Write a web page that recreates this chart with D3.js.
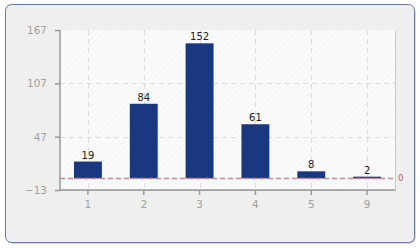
<!DOCTYPE html>
<html>
<head>
<meta charset="utf-8">
<script src="https://cdn.jsdelivr.net/npm/d3@7"></script>
<style>
  body { margin: 0; background: #fff; }
  svg text { font-family: "DejaVu Sans", Verdana, sans-serif; }
</style>
</head>
<body>
<div id="chart"></div>
<script>
// chart data
var categories = ["1", "2", "3", "4", "5", "9"];
var values = [19, 84, 152, 61, 8, 2];
var yTicks = [-13, 47, 107, 167];
var refValue = 0;

var width = 420, height = 250;
var margin = { top: 30, right: 25, bottom: 60, left: 60 };

var svg = d3.select("#chart").append("svg")
    .attr("width", width)
    .attr("height", height);

/* ****** outer panel ****** */
svg.append("rect")
    .attr("x", 6.5).attr("y", 5.5)
    .attr("width", 409).attr("height", 238)
    .attr("rx", 6)
    .attr("fill", "#b8bcc8");
svg.append("rect")
    .attr("x", 5.5).attr("y", 4.5)
    .attr("width", 409).attr("height", 238)
    .attr("rx", 6)
    .attr("fill", "#efefef")
    .attr("stroke", "#6577ad");

var defs = svg.append("defs");
var pat = defs.append("pattern")
    .attr("id", "hatch")
    .attr("patternUnits", "userSpaceOnUse")
    .attr("width", 4).attr("height", 4)
    .attr("patternTransform", "rotate(45)");
pat.append("rect").attr("width", 4).attr("height", 4).attr("fill", "#fbfbfb");
pat.append("line").attr("x1", 0).attr("y1", 0).attr("x2", 0).attr("y2", 4)
    .attr("stroke", "#eeeeee").attr("stroke-width", 1);

var pw = width - margin.left - margin.right;
var ph = height - margin.top - margin.bottom;

var g = svg.append("g")
    .attr("transform", "translate(" + margin.left + "," + margin.top + ")");

var x = d3.scaleBand().domain(categories).range([0, pw]).paddingInner(0.5).paddingOuter(0.25);
var y = d3.scaleLinear().domain([yTicks[0], yTicks[yTicks.length - 1]]).range([ph, 0]);

// plot background with slight shadow
g.append("rect").attr("x", 1).attr("y", 1).attr("width", pw).attr("height", ph).attr("fill", "#c8c8c8");
g.append("rect").attr("width", pw).attr("height", ph).attr("fill", "url(#hatch)");

// grid
g.selectAll(".vgrid").data(categories).enter().append("line")
    .attr("x1", function(d) { return Math.round(x(d) + x.bandwidth() / 2) + 0.5; })
    .attr("x2", function(d) { return Math.round(x(d) + x.bandwidth() / 2) + 0.5; })
    .attr("y1", 0).attr("y2", ph)
    .attr("stroke", "#dcdcdc").attr("stroke-dasharray", "5,4");
g.selectAll(".hgrid").data(yTicks.slice(1, -1)).enter().append("line")
    .attr("x1", 0).attr("x2", pw)
    .attr("y1", function(d) { return Math.round(y(d)) + 0.5; })
    .attr("y2", function(d) { return Math.round(y(d)) + 0.5; })
    .attr("stroke", "#dcdcdc").attr("stroke-dasharray", "5,4");

// bars
g.selectAll(".bar").data(values).enter().append("rect")
    .attr("x", function(d, i) { return x(categories[i]); })
    .attr("width", x.bandwidth())
    .attr("y", function(d) { return y(d); })
    .attr("height", function(d) { return y(0) - y(d); })
    .attr("fill", "#1a3880");

g.selectAll(".val").data(values).enter().append("text")
    .attr("x", function(d, i) { return x(categories[i]) + x.bandwidth() / 2; })
    .attr("y", function(d) { return y(d) - 3; })
    .attr("text-anchor", "middle")
    .attr("font-size", 10)
    .attr("fill", "#222")
    .text(function(d) { return d; });

// reference line at zero
g.append("line")
    .attr("x1", 0).attr("x2", pw)
    .attr("y1", y(refValue)).attr("y2", y(refValue))
    .attr("stroke", "#c08a90").attr("stroke-width", 1.5)
    .attr("stroke-dasharray", "5,3");
g.append("text")
    .attr("x", pw + 3).attr("y", y(refValue) + 3)
    .attr("font-size", 8.5)
    .attr("fill", "#b05a6a")
    .text(refValue);

// axes
var yAxis = d3.axisLeft(y).tickValues(yTicks).tickSize(5).tickPadding(8);
var xAxis = d3.axisBottom(x).tickSize(5).tickPadding(6);

var ya = g.append("g").call(yAxis);
var xa = g.append("g").attr("transform", "translate(0," + ph + ")").call(xAxis);

[ya, xa].forEach(function(a) {
    a.select(".domain").attr("stroke", "#999").attr("stroke-width", 1.5);
    a.selectAll(".tick line").attr("stroke", "#999").attr("stroke-width", 1.5);
    a.selectAll(".tick text").attr("fill", "#a0a0a0").attr("font-size", 10.5)
        .attr("font-family", "DejaVu Sans, Verdana, sans-serif");
});
xa.select(".domain").attr("d", "M0,0H" + pw);
ya.select(".domain").attr("d", "M0,0V" + ph);
</script>
</body>
</html>
